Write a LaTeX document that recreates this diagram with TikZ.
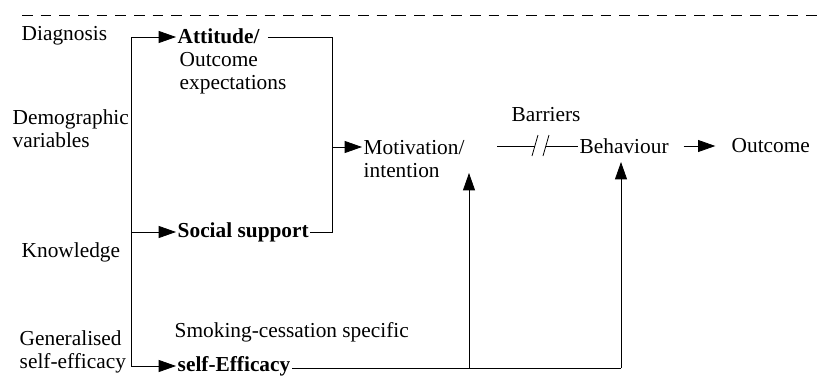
\documentclass[tikz,border=0pt]{standalone}
\usepackage{fontspec}
\setmainfont{Liberation Serif}
\usetikzlibrary{positioning,arrows.meta}

\tikzset{
  lbl/.style={anchor=west, inner xsep=1pt, inner ysep=2pt, align=left,
              font=\fontsize{16}{17.5}\selectfont},
  blbl/.style={lbl, font=\fontsize{16}{17.5}\selectfont\bfseries},
  arr/.style={-{Triangle[length=13pt,width=9pt]}},
}

\begin{document}
\begin{tikzpicture}[x=0.75pt,y=-0.75pt,line width=0.6pt]
  \useasboundingbox (0,0) rectangle (821,375);
  \draw[dash pattern=on 8pt off 6pt] (22,15) -- (821,15);

  % inputs on the left
  \node[lbl] (diag) at (20,36) {Diagnosis};
  \node[lbl] (demo) at (11,129) {Demographic\\variables};
  \node[lbl] (know) at (20,252) {Knowledge};
  \node[lbl] (gen)  at (18,352) {Generalised\\self-efficacy};

  % middle column
  \node[blbl] (att) at (176,36) {Attitude/};
  \node[lbl, anchor=north west] (oexp) at (178,49) {Outcome\\expectations};
  \node[blbl] (soc) at (176,232) {Social support};
  \node[lbl] (smk) at (173,332) {Smoking-cessation specific};
  \node[blbl] (eff) at (176,366) {self-Efficacy};

  % right part
  \node[lbl] (mot)  at (362,159) {Motivation/\\intention};
  \node[lbl] (bar)  at (510,115) {Barriers};
  \node[lbl] (beh)  at (578,146) {Behaviour};
  \node[lbl] (outc) at (730,146) {Outcome};

  \coordinate (tr1) at (131,37);
  \coordinate (tr2) at (131,366);
  \coordinate (br1) at (332,37);
  \coordinate (br2) at (332,232);
  \coordinate (brm) at (332,147);
  \coordinate (b1) at (469,368);
  \coordinate (b2) at (621,368);
  \coordinate (bk1) at (497,146);
  \coordinate (bk2) at (535,146);
  \coordinate (bk3) at (546,146);

  \draw (tr1) -- (tr2);
  \draw[arr] (tr1) -- (tr1 -| att.west);
  \draw[arr] (tr1 |- soc) -- (soc.west);
  \draw[arr] (tr2) -- (eff.west);

  \draw (br1 -| att.east) ++(5pt,0) -- (br1) -- (br2) -- (soc.east);
  \draw[arr] (brm) -- (brm -| mot.west);

  \draw (eff.east |- b1) -- (b2);
  \draw[arr] (b1) -- (469,173);
  \draw[arr] (b2) -- (621,162);

  \draw (bk1) -- (bk2);
  \draw (bk2) ++(-3,10) -- ++(6,-21);
  \draw (bk3) ++(-3,10) -- ++(6,-21);
  \draw (bk3) -- (beh.west);
  \draw[arr] ([xshift=10pt]beh.east) -- ([xshift=-11pt]outc.west);
\end{tikzpicture}
\end{document}
